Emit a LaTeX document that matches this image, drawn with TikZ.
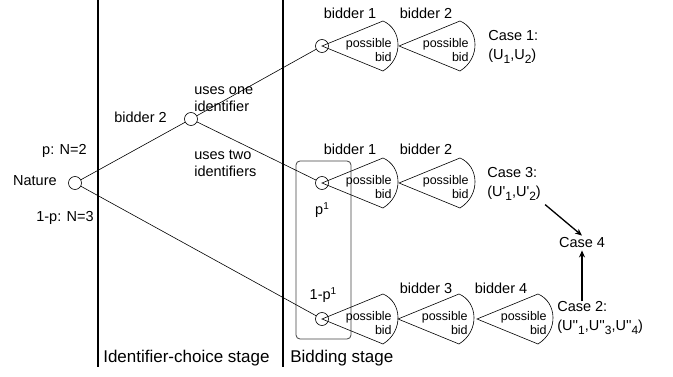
\documentclass[tikz,border=0pt]{standalone}
\usepackage{fontspec}
\newfontfamily\lsans{Liberation Sans}
\usetikzlibrary{arrows.meta}
\newcommand\lowr[1]{\raisebox{-0.45ex}{\fontsize{12}{12}\selectfont #1}}
\newcommand\upr[1]{\raisebox{0.6ex}{\fontsize{10}{10}\selectfont #1}}
\begin{document}
\begin{tikzpicture}[x=1pt,y=-1pt, line width=0.6pt,
 lbl/.style={font=\lsans\fontsize{14.5}{17}\selectfont, inner sep=0pt},
 caselbl/.style={font=\lsans\fontsize{14.5}{19}\selectfont, inner sep=0pt, anchor=west, align=left},
 stagelbl/.style={font=\lsans\fontsize{17}{20}\selectfont, inner sep=0pt, anchor=west},
 dec/.style={circle, draw, minimum size=13pt, inner sep=0pt},
 stageline/.style={line width=1.6pt},
 grpbox/.style={draw=black!75, line width=0.8pt, rounded corners=4pt},
 arr/.style={line width=1.3pt, -{Stealth[length=7pt,width=6pt]}},
 fantext/.style={font=\lsans\fontsize{12.5}{14}\selectfont, align=right, anchor=east, inner sep=0pt},
 fanpic/.pic={\draw (0,0) -- (61,-25) .. controls (80,-17) and (82,12) .. (61,25) -- cycle;
   \node[fantext] (-t) at (70,4) {possible\\bid};}
]
\useasboundingbox (0,0) rectangle (673,377);
% stage separators
\draw[stageline] (98,0) -- (98,367);
\draw[stageline] (283,0) -- (283,367);
% group box
\draw[grpbox] (296,161) rectangle (351,339);
% decision nodes
\node[dec] (nat) at (75,183) {};
\node[dec] (b2) at (191,119) {};
\node[dec] (top) at (322,46) {};
\node[dec] (mid) at (322,183) {};
\node[dec] (bot) at (322,319) {};
% connectors
\draw (nat) -- (b2);
\draw (nat) -- (bot);
\draw (b2) -- (top);
\draw (b2) -- (mid);
% fans
\pic (f1) at (top.center) {fanpic};
\pic (f2) at (399,46) {fanpic};
\pic (f3) at (mid.center) {fanpic};
\pic (f4) at (399,183) {fanpic};
\pic (f5) at (bot.center) {fanpic};
\pic (f6) at (398,319) {fanpic};
\pic (f7) at (477,319) {fanpic};
% labels
\node[lbl, anchor=east] (lp) at (87,151) {p: N=2};
\node[lbl, anchor=east] (lnat) at (57,181) {Nature};
\node[lbl, anchor=east] (lq) at (94,218) {1-p: N=3};
\node[lbl, anchor=east] (lb2) at (167,117) {bidder 2};
\node[lbl, anchor=west, align=left] (one) at (194,99) {uses one\\identifier};
\node[lbl, anchor=west, align=left] (two) at (194,163) {uses two\\identifiers};
\node[lbl] (t1) at (350,13) {bidder 1};
\node[lbl] (t2) at (426,13) {bidder 2};
\node[lbl] (m1) at (350,149) {bidder 1};
\node[lbl] (m2) at (426,149) {bidder 2};
\node[lbl] (b3) at (426,288) {bidder 3};
\node[lbl] (b4) at (501,288) {bidder 4};
\node[lbl] (pone) at (322,210) {p\upr{1}};
\node[lbl] (qone) at (323,295) {1-p\upr{1}};
% cases
\node[caselbl] (case1) at (488,47) {Case 1:\\(U\lowr{1},U\lowr{2})};
\node[caselbl] (case3) at (487,184) {Case 3:\\(U'\lowr{1},U'\lowr{2})};
\node[caselbl] (case2) at (557,318) {Case 2:\\(U''\lowr{1},U''\lowr{3},U''\lowr{4})};
\node[lbl, inner sep=2pt] (case4) at (582,243) {Case 4};
\draw[arr] ([xshift=4pt,yshift=-4pt]case3.south east) -- (case4.north);
\draw[arr] (case4.south |- case2.north) -- (case4.south);
% stages
\node[stagelbl] (s1) at (103,358) {Identifier-choice stage};
\node[stagelbl] (s2) at (290,358) {Bidding stage};
\end{tikzpicture}
\end{document}
